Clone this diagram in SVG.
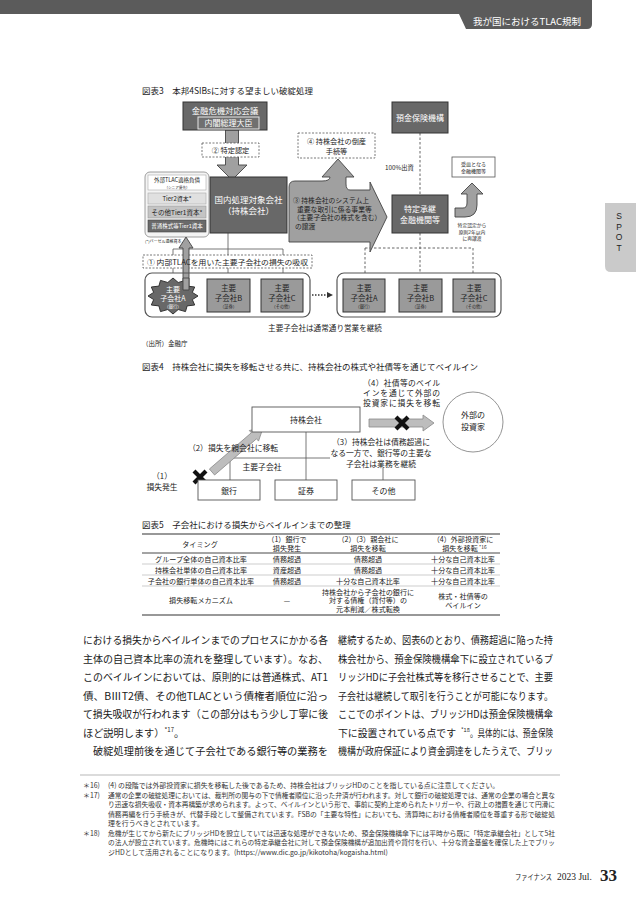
<svg xmlns="http://www.w3.org/2000/svg" width="636" height="900" viewBox="0 0 636 900">
<style>
text{font-family:'Noto Sans CJK JP','Noto Sans',sans-serif;fill:#222}
.c{text-anchor:middle}
.w{fill:#fff}
.t8{font-size:8.5px}
.f7{font-size:7.2px}
.dark{fill:#686868;stroke:#333;stroke-width:1}
.mid{fill:#9a9a9a;stroke:#333;stroke-width:1}
.dash{fill:#fff;stroke:#555;stroke-width:0.8;stroke-dasharray:2 1.5}
.ddl{fill:none;stroke:#555;stroke-width:0.9;stroke-dasharray:2.5 2}
.thin{fill:none;stroke:#555;stroke-width:0.8}
.garrow{fill:#a0a0a0;stroke:#444;stroke-width:0.9}
.larrow{fill:#bdbdbd;stroke:#888;stroke-width:0.8}
.box4{fill:#fff;stroke:#555;stroke-width:0.9}
.xm{stroke:#111;stroke-width:4.2}
.body{font-size:10.2px;fill:#1a1a1a}
.fn{font-size:6.9px;fill:#333}
.tb{font-size:7.1px}
.rule{stroke:#333;stroke-width:1.2}
.rl{stroke:#999;stroke-width:0.5}
.sp{font-family:'Liberation Sans',sans-serif;font-size:8.5px;text-anchor:middle}
</style>

<!-- header -->
<g id="header">
<path d="M0 0 H592 V24 Q592 29 587 29 H466 L459 14 H0 Z" fill="#5b5b5b"/>
<text x="527" y="24.5" class="c w" font-size="9.5px">我が国におけるTLAC規制</text>
</g>
<g id="spot-tab">
<path d="M605 203 H636 V272 H611 Q605 272 605 266 Z" fill="#cacaca"/>
<text x="619" y="219" class="sp">S</text>
<text x="619" y="229.5" class="sp">P</text>
<text x="619" y="240" class="sp">O</text>
<text x="619" y="250.5" class="sp">T</text>
</g>

<!-- Figure 3 -->
<text x="142" y="94" class="t8">図表3　本邦4SIBsに対する望ましい破綻処理</text>

<g id="connectors-fig3">
<polygon class="garrow" points="225.5,130 238.5,130 238.5,165 247,165 232,180 217,165 225.5,165"/>
<path class="thin" d="M228 233 V249 M173 249 H283 M173 249 V273 M228 249 V273 M283 249 V273"/>
<path class="ddl" d="M420 133 V195 M420 233 V273 M365 248 H473 M365 248 V273 M473 248 V273"/>
<path d="M312 295 H327" stroke="#333" stroke-width="1.5" stroke-dasharray="1.5 1.5"/>
<polygon points="327,292 333,295 327,298" fill="#333"/>
<path class="garrow" d="M455 208 H463 Q467 208 467 203 V194 H461 L472 183 L483 194 H477 V205 Q477 217 465 217 H455 Z"/>
</g>

<g id="kiki">
<rect x="183" y="102" width="84" height="28" class="dark"/>
<text x="225" y="113.5" class="c w" font-size="8.3px">金融危機対応会議</text>
<rect x="198" y="117" width="61" height="12" fill="#707070" stroke="#e6e6e6" stroke-width="1"/>
<text x="228.5" y="126.3" class="c w" font-size="8px">内閣総理大臣</text>
</g>

<g id="tokutei-nintei">
<rect x="202" y="143" width="57" height="14" class="dash"/>
<text x="230.5" y="153" class="c f7">② 特定認定</text>
</g>

<g id="tosan">
<rect x="298" y="133" width="77" height="25" class="dash"/>
<text x="336.5" y="143.5" class="c f7">④ 持株会社の倒産</text>
<text x="336.5" y="153.5" class="c f7">手続等</text>
</g>

<g id="joto-arrow">
<path class="garrow" d="M289 242 H370 V252 L387 217 L370 182 V190 H350 Q346 190 346 184 V177 H354 L338 159 L322 177 H330 Q330 181 322 181 H295 Q289 181 289 187 Z"/>
<text x="293" y="203" font-size="6.8px">③ 持株会社のシステム上</text>
<text x="297" y="211.5" font-size="6.8px">重要な取引に係る事業等</text>
<text x="293" y="220" font-size="6.8px">（主要子会社の株式を含む）</text>
<text x="295" y="228.5" font-size="6.8px">の譲渡</text>
</g>

<g id="holding">
<rect x="210" y="177" width="77" height="56" class="dark"/>
<text x="248.5" y="203" class="c w" font-size="8.5px">国内処理対象会社</text>
<text x="248.5" y="214" class="c w" font-size="8.5px">（持株会社）</text>
</g>

<g id="capital-stack">
<rect x="145" y="172" width="64" height="65" rx="5" fill="#f4f4f4" stroke="#888" stroke-width="0.8"/>
<rect x="148" y="175" width="58" height="15" fill="#fff" stroke="#aaa" stroke-width="0.6"/>
<text x="177" y="182.3" class="c" font-size="5.5px">外部TLAC適格負債</text>
<text x="177" y="188.5" class="c" font-size="3.6px">（シニア優先）</text>
<rect x="148" y="193" width="58" height="11" fill="#e0e0e0" stroke="#aaa" stroke-width="0.6"/>
<text x="177" y="200.8" class="c" font-size="6px">Tier2資本*</text>
<rect x="148" y="206" width="58" height="12" fill="#c4c4c4" stroke="#999" stroke-width="0.6"/>
<text x="177" y="214.5" class="c" font-size="6.5px">その他Tier1資本*</text>
<rect x="148" y="220" width="58" height="12" fill="#6a6a6a" stroke="#444" stroke-width="0.6"/>
<text x="177" y="228.3" class="c w" font-size="5.5px">普通株式等Tier1資本</text>
<text x="145" y="243" font-size="4px">(*)バーゼル適格資本</text>
</g>

<g id="kyushu">
<rect x="143" y="255" width="169" height="13" class="dash"/>
<polygon class="garrow" points="183,290 189,290 189,248 193,248 186,237 179,248 183,248"/>
<text x="147" y="264.5" font-size="7.4px" textLength="161" lengthAdjust="spacingAndGlyphs">① 内部TLACを用いた主要子会社の損失の吸収</text>
</g>

<g id="subs-before">
<rect x="145" y="273" width="165" height="44" rx="7" fill="none" stroke="#555" stroke-width="1.2"/>
</g>
<g id="sub-a-before">
<polygon class="dark" points="198,296 192.3,299.6 194.7,305 187.1,305.9 185.5,311.6 178.2,309.5 173,314 167.8,309.5 160.5,311.6 158.9,305.9 151.3,305 153.7,299.6 148,296 153.7,292.4 151.3,287 158.9,286.1 160.5,280.4 167.8,282.5 173,278 178.2,282.5 185.5,280.4 187.1,286.1 194.7,287 192.3,292.4"/>
<polygon class="garrow" points="183,290 189,290 189,278 183,278"/>
<text x="173" y="291.5" class="c w" font-size="7px">主要</text>
<text x="173" y="300.5" class="c w" font-size="7px">子会社A</text>
<text x="173" y="307.5" class="c w" font-size="4.2px">（銀行）</text>
</g>
<g id="sub-b-before">
<rect x="207" y="279" width="43" height="33" class="mid"/>
<text x="228.5" y="291" class="c" font-size="7.5px">主要</text>
<text x="228.5" y="300.5" class="c" font-size="7.5px">子会社B</text>
<text x="228.5" y="308" class="c" font-size="4.2px">（証券）</text>
</g>
<g id="sub-c-before">
<rect x="261" y="279" width="42" height="33" class="mid"/>
<text x="282" y="291" class="c" font-size="7.5px">主要</text>
<text x="282" y="300.5" class="c" font-size="7.5px">子会社C</text>
<text x="282" y="308" class="c" font-size="4.2px">（その他）</text>
</g>

<g id="subs-after">
<rect x="337" y="273" width="164" height="44" rx="7" fill="none" stroke="#555" stroke-width="1.2"/>
</g>
<g id="sub-a-after">
<rect x="343" y="279" width="42" height="33" class="mid"/>
<text x="364" y="291" class="c" font-size="7.5px">主要</text>
<text x="364" y="300.5" class="c" font-size="7.5px">子会社A</text>
<text x="364" y="308" class="c" font-size="4.2px">（銀行）</text>
</g>
<g id="sub-b-after">
<rect x="399" y="279" width="43" height="33" class="mid"/>
<text x="420.5" y="291" class="c" font-size="7.5px">主要</text>
<text x="420.5" y="300.5" class="c" font-size="7.5px">子会社B</text>
<text x="420.5" y="308" class="c" font-size="4.2px">（証券）</text>
</g>
<g id="sub-c-after">
<rect x="453" y="279" width="42" height="33" class="mid"/>
<text x="474" y="291" class="c" font-size="7.5px">主要</text>
<text x="474" y="300.5" class="c" font-size="7.5px">子会社C</text>
<text x="474" y="308" class="c" font-size="4.2px">（その他）</text>
</g>
<text x="325" y="331" class="c" font-size="7.6px">主要子会社は通常通り営業を継続</text>
<text x="142" y="346" font-size="6.5px">（出所）金融庁</text>

<g id="dic">
<rect x="392" y="102" width="56" height="31" class="dark"/>
<text x="420" y="121" class="c w" font-size="8px">預金保険機構</text>
</g>
<text x="385" y="169.5" font-size="6.3px">100%出資</text>
<g id="shokei">
<rect x="392" y="195" width="56" height="38" class="dark"/>
<text x="420" y="211.5" class="c w" font-size="8px">特定承継</text>
<text x="420" y="222.5" class="c w" font-size="8px">金融機関等</text>
</g>
<g id="ukezara">
<rect x="452" y="157" width="43" height="20" fill="#fff" stroke="#555" stroke-width="0.8"/>
<text x="473.5" y="165.5" class="c" font-size="5px">受皿となる</text>
<text x="473.5" y="173" class="c" font-size="5px">金融機関等</text>
</g>
<text x="472" y="227" class="c" font-size="4.8px">特定認定から</text>
<text x="472" y="233.5" class="c" font-size="4.8px">原則2年以内</text>
<text x="472" y="240" class="c" font-size="4.8px">に再譲渡</text>

<!-- Figure 4 -->
<text x="142" y="370" class="t8">図表4　持株会社に損失を移転させる共に、持株会社の株式や社債等を通じてベイルイン</text>
<g id="connectors-fig4">
<path class="thin" d="M306 432 V480 M230 458 H330 M230 458 V480 M383 468 V480"/>
<polygon class="larrow" points="369,419 423,419 423,415 434,423 423,431 423,427 369,427"/>
<polygon class="larrow" points="209.4,469 251.3,432.8 249.3,430.5 263,428 258.5,441.1 256.5,438.8 214.6,475"/>
</g>
<text x="363" y="386" font-size="7.8px" textLength="77">（4）社債等のベイル</text>
<text x="363" y="396" font-size="7.8px" textLength="77">インを通じて外部の</text>
<text x="363" y="406" font-size="7.8px" textLength="77">投資家に損失を移転</text>
<g id="mochikabu">
<rect x="252" y="407" width="108" height="25" class="box4"/>
<text x="306" y="423" class="c" font-size="8px">持株会社</text>
</g>
<g id="x-mark-1"><path class="xm" d="M396 417 L408 429 M408 417 L396 429"/></g>
<g id="investor">
<circle cx="473" cy="422" r="30" fill="#fff" stroke="#888" stroke-width="0.9"/>
<text x="473" y="418" class="c" font-size="8px">外部の</text>
<text x="473" y="430" class="c" font-size="8px">投資家</text>
</g>
<text x="381" y="445" class="c" font-size="7.8px">（3）持株会社は債務超過に</text>
<text x="381" y="456" class="c" font-size="7.8px">なる一方で、銀行等の主要な</text>
<text x="381" y="466.5" class="c" font-size="7.8px">子会社は業務を継続</text>
<text x="188" y="451" font-size="7.8px">（2）損失を親会社に移転</text>
<text x="262" y="470" class="c" font-size="7.8px">主要子会社</text>
<text x="162" y="479" class="c" font-size="7.8px">（1）</text>
<text x="162" y="490" class="c" font-size="7.8px">損失発生</text>
<g id="x-mark-2"><path class="xm" d="M194 471 L206 483 M206 471 L194 483"/></g>
<g id="ginko">
<rect x="198" y="480" width="62" height="20" class="box4"/>
<text x="229" y="493.5" class="c" font-size="8px">銀行</text>
</g>
<g id="shoken">
<rect x="275" y="480" width="62" height="20" class="box4"/>
<text x="306" y="493.5" class="c" font-size="8px">証券</text>
</g>
<g id="sonota">
<rect x="352" y="480" width="63" height="20" class="box4"/>
<text x="383.5" y="493.5" class="c" font-size="8px">その他</text>
</g>

<!-- Figure 5 table -->
<text x="142" y="528" class="t8">図表5　子会社における損失からベイルインまでの整理</text>
<g id="table5">
<line x1="142" y1="534" x2="500" y2="534" class="rule"/>
<line x1="142" y1="553" x2="500" y2="553" stroke="#333" stroke-width="0.9"/>
<line x1="142" y1="564" x2="500" y2="564" class="rl"/>
<line x1="142" y1="575" x2="500" y2="575" class="rl"/>
<line x1="142" y1="586" x2="500" y2="586" class="rl"/>
<line x1="142" y1="615" x2="500" y2="615" class="rule"/>
<text x="200" y="546.5" class="c tb">タイミング</text>
<text x="287" y="542" class="c tb">（1）銀行で</text>
<text x="287" y="550.5" class="c tb">損失発生</text>
<text x="368" y="542" class="c tb">（2）（3）親会社に</text>
<text x="368" y="550.5" class="c tb">損失を移転</text>
<text x="463" y="542" class="c tb">（4）外部投資家に</text>
<text x="460" y="550.5" class="c tb">損失を移転</text>
<text x="479" y="548.5" font-size="4.8px">*16</text>
<text x="201" y="561.5" class="c tb">グループ全体の自己資本比率</text>
<text x="287" y="561.5" class="c tb">債務超過</text>
<text x="368" y="561.5" class="c tb">債務超過</text>
<text x="463" y="561.5" class="c tb">十分な自己資本比率</text>
<text x="201" y="572.5" class="c tb">持株会社単体の自己資本比率</text>
<text x="287" y="572.5" class="c tb">資産超過</text>
<text x="368" y="572.5" class="c tb">債務超過</text>
<text x="463" y="572.5" class="c tb">十分な自己資本比率</text>
<text x="201" y="583.5" class="c tb">子会社の銀行単体の自己資本比率</text>
<text x="287" y="583.5" class="c tb">債務超過</text>
<text x="368" y="583.5" class="c tb">十分な自己資本比率</text>
<text x="463" y="583.5" class="c tb">十分な自己資本比率</text>
<text x="201" y="603" class="c tb">損失移転メカニズム</text>
<text x="287" y="603" class="c tb">—</text>
<text x="368" y="594.5" class="c tb">持株会社から子会社の銀行に</text>
<text x="368" y="603" class="c tb">対する債権（貸付等）の</text>
<text x="368" y="611.5" class="c tb">元本削減／株式転換</text>
<text x="463" y="599" class="c tb">株式・社債等の</text>
<text x="463" y="607.5" class="c tb">ベイルイン</text>
</g>

<!-- body text -->
<g id="body-left">
<text x="83" y="644" class="body" textLength="245" lengthAdjust="spacingAndGlyphs">における損失からベイルインまでのプロセスにかかる各</text>
<text x="83" y="662.5" class="body" textLength="245" lengthAdjust="spacingAndGlyphs">主体の自己資本比率の流れを整理しています）。なお、</text>
<text x="83" y="681" class="body" textLength="245" lengthAdjust="spacingAndGlyphs">このベイルインにおいては、原則的には普通株式、AT1</text>
<text x="83" y="699.5" class="body" textLength="245" lengthAdjust="spacingAndGlyphs">債、BⅢT2債、その他TLACという債権者順位に沿っ</text>
<text x="83" y="718" class="body" textLength="245" lengthAdjust="spacingAndGlyphs">て損失吸収が行われます（この部分はもう少し丁寧に後</text>
<text x="83" y="736.5" class="body">ほど説明します）<tspan font-size="6px" dy="-4.5">*17</tspan><tspan dy="4.5">。</tspan></text>
<text x="93" y="755" class="body" textLength="235" lengthAdjust="spacingAndGlyphs">破綻処理前後を通じて子会社である銀行等の業務を</text>
</g>
<g id="body-right">
<text x="338" y="644" class="body" textLength="215" lengthAdjust="spacingAndGlyphs">継続するため、図表6のとおり、債務超過に陥った持</text>
<text x="338" y="662.5" class="body" textLength="215" lengthAdjust="spacingAndGlyphs">株会社から、預金保険機構傘下に設立されているブ</text>
<text x="338" y="681" class="body" textLength="215" lengthAdjust="spacingAndGlyphs">リッジHDに子会社株式等を移行させることで、主要</text>
<text x="338" y="699.5" class="body" textLength="215" lengthAdjust="spacingAndGlyphs">子会社は継続して取引を行うことが可能になります。</text>
<text x="338" y="718" class="body" textLength="215" lengthAdjust="spacingAndGlyphs">ここでのポイントは、ブリッジHDは預金保険機構傘</text>
<text x="338" y="736.5" class="body" textLength="118" lengthAdjust="spacingAndGlyphs">下に設置されている点です</text>
<text x="461" y="732" font-size="5.6px" fill="#1a1a1a">*18</text>
<text x="470" y="736.5" class="body" textLength="83" lengthAdjust="spacingAndGlyphs">。具体的には、預金保険</text>
<text x="338" y="755" class="body" textLength="215" lengthAdjust="spacingAndGlyphs">機構が政府保証により資金調達をしたうえで、ブリッ</text>
</g>

<!-- footnotes -->
<g id="footnotes">
<line x1="80" y1="775" x2="560" y2="775" stroke="#999" stroke-width="0.7"/>
<text x="83" y="788" class="fn">＊16)</text>
<text x="108" y="788" class="fn">(4) の段階では外部投資家に損失を移転した後であるため、持株会社はブリッジHDのことを指している点に注意してください。</text>
<text x="83" y="797.5" class="fn">＊17)</text>
<text x="108" y="797.5" class="fn" textLength="447" lengthAdjust="spacingAndGlyphs">通常の企業の破綻処理においては、裁判所の関与の下で債権者順位に沿った弁済が行われます。対して銀行の破綻処理では、通常の企業の場合と異な</text>
<text x="108" y="807" class="fn" textLength="447" lengthAdjust="spacingAndGlyphs">り迅速な損失吸収・資本再構築が求められます。よって、ベイルインという形で、事前に契約上定められたトリガーや、行政上の措置を通じて円滑に</text>
<text x="108" y="816.5" class="fn" textLength="447" lengthAdjust="spacingAndGlyphs">債務再編を行う手続きが、代替手段として整備されています。FSBの「主要な特性」においても、清算時における債権者順位を尊重する形で破綻処</text>
<text x="108" y="826" class="fn">理を行うべきとされています。</text>
<text x="83" y="835.5" class="fn">＊18)</text>
<text x="108" y="835.5" class="fn" textLength="447" lengthAdjust="spacingAndGlyphs">危機が生じてから新たにブリッジHDを設立していては迅速な処理ができないため、預金保険機構傘下には平時から既に「特定承継会社」として5社</text>
<text x="108" y="845" class="fn" textLength="447" lengthAdjust="spacingAndGlyphs">の法人が設立されています。危機時にはこれらの特定承継会社に対して預金保険機構が追加出資や貸付を行い、十分な資金基盤を確保した上でブリッ</text>
<text x="108" y="854.5" class="fn">ジHDとして活用されることになります。(https://www.dic.go.jp/kikotoha/kogaisha.html)</text>
</g>

<!-- footer -->
<g id="footer">
<text x="515" y="880" font-size="7.5px" textLength="37" lengthAdjust="spacingAndGlyphs">ファイナンス</text>
<text x="557" y="880" font-size="9.5px" style="font-family:'Liberation Serif',serif">2023 Jul.</text>
<text x="600" y="881" font-size="17px" font-weight="bold" style="font-family:'Liberation Serif',serif">33</text>
</g>
</svg>
